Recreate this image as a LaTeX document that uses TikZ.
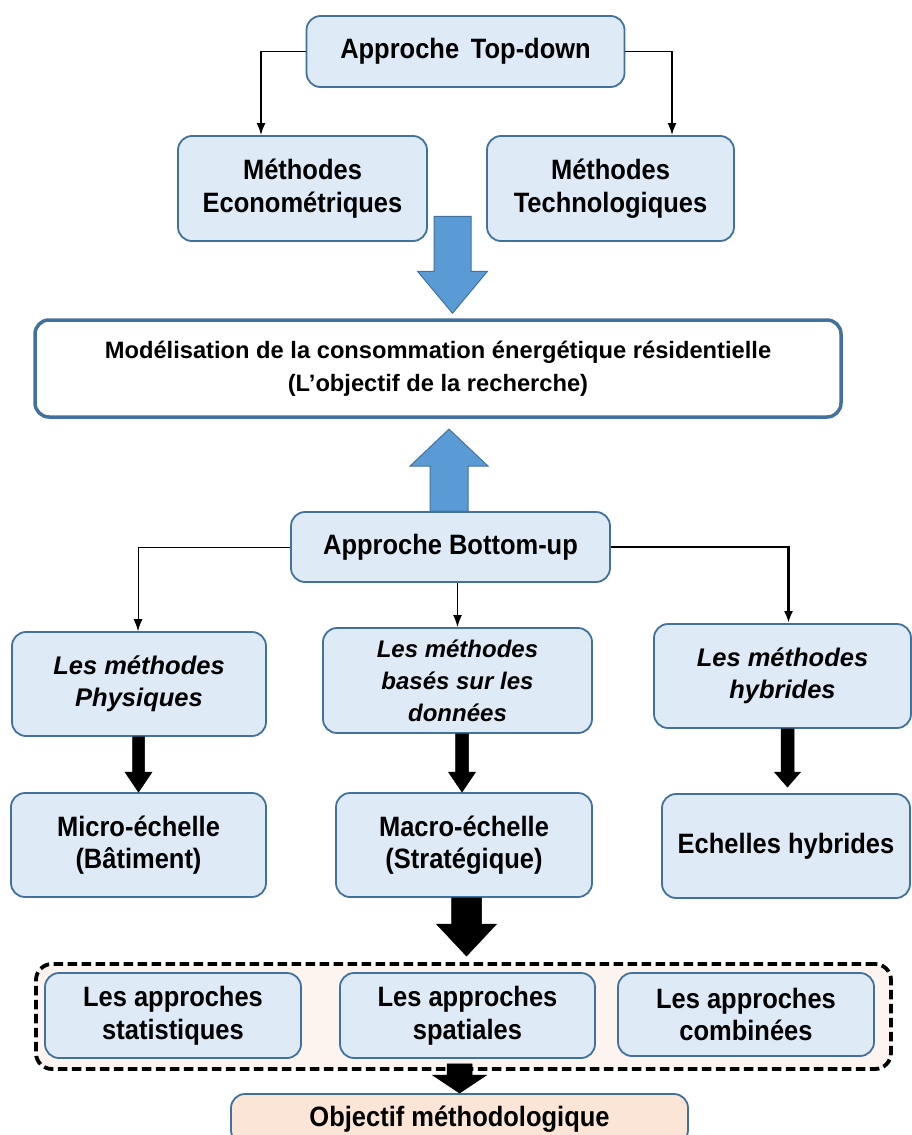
\documentclass[tikz,border=0pt]{standalone}
\usepackage{fontspec}
\setmainfont{Liberation Sans}
\newfontfamily\narrowsans[FakeStretch=0.91]{Liberation Sans}
\usetikzlibrary{arrows.meta,calc}

\definecolor{boxfill}{HTML}{DEEBF7}
\definecolor{boxline}{HTML}{41719C}
\definecolor{arrowblue}{HTML}{5B9BD5}
\definecolor{groupfill}{HTML}{FDF4F0}
\definecolor{goalfill}{HTML}{FBE5D6}

% Block arrow along a vertical line: #1 style, #2 start, #3 tip,
% #4 shaft half-width, #5 head half-width, #6 signed head length (pt)
\newcommand\blockarrow[6]{%
  \path[#1] let \p1=(#2), \p2=(#3) in
    (\x2-#4pt,\y1) -- (\x2+#4pt,\y1) -- (\x2+#4pt,\y2+#6pt) -- (\x2+#5pt,\y2+#6pt)
    -- (\x2,\y2) -- (\x2-#5pt,\y2+#6pt) -- (\x2-#4pt,\y2+#6pt) -- cycle;}

\begin{document}
\begin{tikzpicture}[x=1pt,y=-1pt,
  box/.style={draw=boxline, line width=1.8pt, fill=boxfill, rounded corners=14pt,
    align=center, inner sep=0pt,
    font=\narrowsans\fontsize{28}{32.5}\selectfont\bfseries},
  ibox/.style={box, font=\fontsize{25.5}{32.5}\selectfont\bfseries\itshape},
  conn/.style={-{Latex[length=12pt,width=9pt]}, line width=1.8pt},
  bluearrow/.style={fill=arrowblue, draw=boxline, line width=1pt},
  blackarrow/.style={fill=black, draw=black, line width=0.5pt}]
\useasboundingbox (0,0) rectangle (912,1135);

% Top-down branch
\node[box, minimum width=318pt, minimum height=71pt] (td) at (465.5,51.5) {Approche\, Top-down};
\node[box, minimum width=249pt, minimum height=105pt] (econ) at (302.5,188.5) {Méthodes\\Econométriques};
\node[box, minimum width=247pt, minimum height=105pt] (tech) at (610.5,188.5) {Méthodes\\Technologiques};
\draw[conn] (td.west) -| ([xshift=-41.5pt]econ.north);
\draw[conn] (td.east) -| ([xshift=61.5pt]tech.north);

% Research objective
\node[draw=boxline, line width=3.5pt, fill=white, rounded corners=14pt, align=center,
  minimum width=806pt, minimum height=97pt, inner sep=0pt,
  font=\fontsize{23.7}{33}\selectfont\bfseries] (big) at (438,368.5)
  {Modélisation de la consommation énergétique résidentielle\\(L’objectif de la recherche)};

% Bottom-up branch
\node[box, minimum width=319pt, minimum height=70pt] (bu) at (450.5,547) {Approche Bottom-up};
\node[ibox, minimum width=254pt, minimum height=104pt] (phys) at (139,684) {Les méthodes\\Physiques};
\node[ibox, minimum width=269pt, minimum height=105pt,
  font=\fontsize{24}{32}\selectfont\bfseries\itshape] (dat) at (457.5,680.5) {Les méthodes\\basés sur les\\données};
\node[ibox, minimum width=257pt, minimum height=104pt] (hyb) at (782.5,676) {Les méthodes\\hybrides};
\draw[conn, line width=0.9pt] (bu.west) -| ([xshift=-1pt]phys.north);
\draw[conn, line width=1.4pt] (bu.south -| dat.north) -- (dat.north);
\draw[conn, line width=2.6pt] (bu.east) -| ([xshift=6pt]hyb.north);

\node[box, minimum width=255pt, minimum height=104pt] (micro) at (138.5,845) {Micro-échelle\\(Bâtiment)};
\node[box, minimum width=256pt, minimum height=104pt] (macro) at (464,845) {Macro-échelle\\(Stratégique)};
\node[box, minimum width=248pt, minimum height=104pt] (ech) at (786,846) {Echelles hybrides};

% Approaches group
\node[draw=black, line width=3.8pt, dash pattern=on 9.5pt off 4.5pt, fill=groupfill,
  rounded corners=16pt, minimum width=855pt, minimum height=105pt] (cont) at (463.5,1016.5) {};
\node[box, minimum width=256pt, minimum height=85pt] (stat) at (173,1015.5) {Les approches\\statistiques};
\node[box, minimum width=255pt, minimum height=85pt] (spat) at (467.5,1015.5) {Les approches\\spatiales};
\node[box, minimum width=256pt, minimum height=83pt] (comb) at (746,1014.5) {Les approches\\combinées};

\node[box, fill=goalfill, minimum width=457pt, minimum height=50pt] (obj) at (459.5,1119) {Objectif méthodologique};

% Block arrows
\blockarrow{bluearrow}{$(big.north)+(14.5,-102)$}{$(big.north)+(14.5,-5)$}{18.5}{35}{42}
\blockarrow{bluearrow}{bu.north}{$(bu.north)+(-1.5,-82)$}{19}{39}{-37}
\blockarrow{blackarrow}{phys.south}{micro.north}{6}{13.5}{20}
\blockarrow{blackarrow}{dat.south}{$(macro.north)+(-2,0)$}{6.5}{13.5}{20}
\blockarrow{blackarrow}{hyb.south}{$(ech.north)+(1.5,-6)$}{6.5}{13}{15}
\blockarrow{blackarrow}{macro.south}{$(cont.north)+(3,-6)$}{15}{30}{32}
\blockarrow{blackarrow}{$(cont.south)+(-1,-7)$}{obj.north}{12.5}{27}{18}
\end{tikzpicture}
\end{document}
